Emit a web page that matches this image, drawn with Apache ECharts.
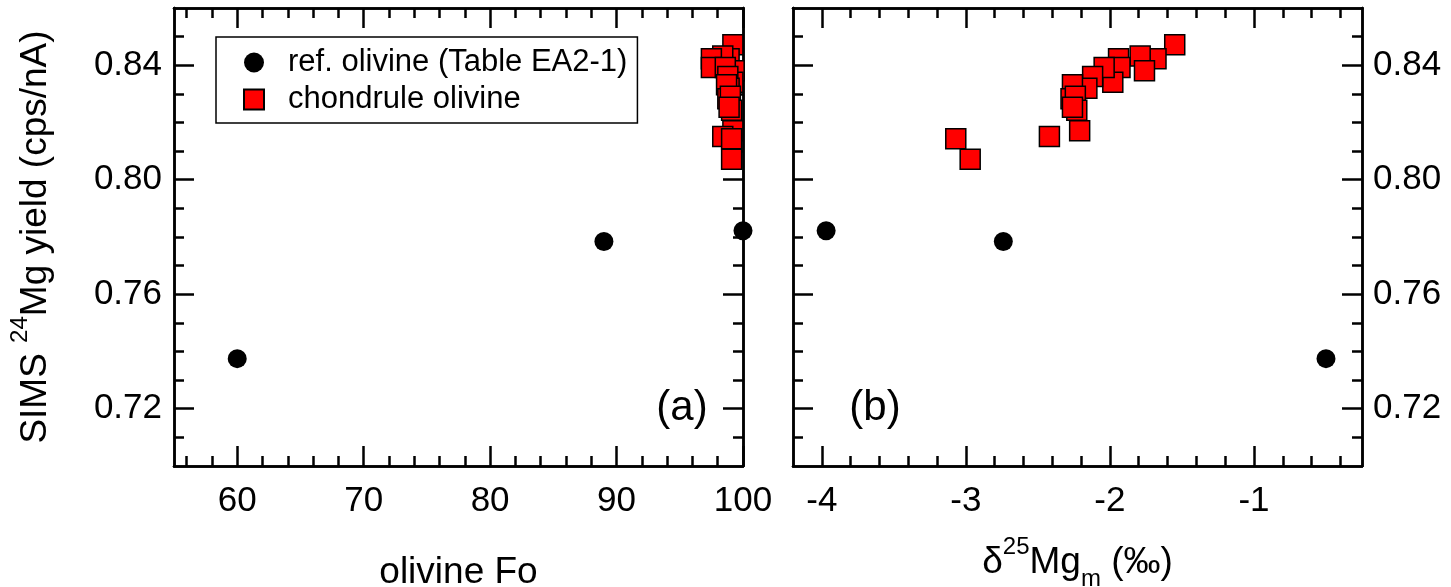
<!DOCTYPE html>
<html>
<head>
<meta charset="utf-8">
<script src="https://cdn.jsdelivr.net/npm/echarts@6/dist/echarts.min.js"></script>
<style>
  html, body { margin: 0; padding: 0; background: #fff; }
  #chart { width: 1451px; height: 587px; }
</style>
</head>
<body>
<div id="chart"></div>
<script>
// reference olivine (Table EA2-1)
const refFo = [60, 89, 100];
const refDelta = [-0.50, -2.74, -3.97];
const refYield = [0.7375, 0.7784, 0.7822];

// chondrule olivine
const chonFo = [99.2, 98.9, 98.4, 99.3, 97.5, 97.5, 99.2, 98.6, 98.8, 98.9,
                98.7, 98.8, 99.0, 99.1, 98.9, 99.2, 98.4, 99.1, 99.1];
const chonDelta = [-1.55, -1.68, -1.79, -1.76, -1.94, -1.93, -1.98, -2.04, -2.12, -2.16,
                   -2.26, -2.27, -2.24, -2.23, -2.26, -2.21, -2.42, -3.07, -2.97];
const chonYield = [0.8472, 0.8423, 0.8432, 0.8381, 0.8423, 0.8392, 0.8341, 0.8392, 0.8361, 0.8320,
                   0.8332, 0.8283, 0.8292, 0.8243, 0.8253, 0.8171, 0.8151, 0.8143, 0.8072];

// tick labels
const foTicks = [60, 70, 80, 90, 100];
const deltaTicks = [-4, -3, -2, -1];
const yieldTicks = [0.72, 0.76, 0.80, 0.84];

const foRange = [55, 100];
const deltaRange = [-4.2, -0.25];
const yieldRange = [0.70, 0.86];

// minor tick positions
const foMinor = [];
for (let v = 56; v < 100; v += 2) foMinor.push(v);
const deltaMinor = [];
for (let k = 1; k < 20; k++) deltaMinor.push(Math.round((-4.2 + 0.2 * k) * 10) / 10);
const yieldMinor = [];
for (let k = 1; k < 16; k++) yieldMinor.push(Math.round((0.70 + 0.01 * k) * 100) / 100);

const font = 'Liberation Sans, Arial, sans-serif';
const black = '#000';

function axisPair(grid, pos, range, major, minor, label, extra) {
    const base = {
        type: 'value', gridIndex: grid, position: pos,
        min: range[0], max: range[1],
        axisLine: { show: true, onZero: false, lineStyle: { color: black, width: 2.5 } },
        splitLine: { show: false }
    };
    const main = Object.assign({}, base, {
        axisTick: { show: true, inside: true, length: 20, customValues: major,
                    lineStyle: { color: black, width: 2.5 } },
        axisLabel: label ? Object.assign({ show: true, customValues: major, color: black,
                    fontSize: 35, fontFamily: font }, label) : { show: false }
    }, extra || {});
    const small = Object.assign({}, base, {
        axisTick: { show: true, inside: true, length: 10, customValues: minor,
                    lineStyle: { color: black, width: 2.5 } },
        axisLabel: { show: false }
    });
    return [main, small];
}

const supRich = {
    sup: { fontSize: 24, lineHeight: 20, verticalAlign: 'top', fontFamily: font, color: black },
    sub: { fontSize: 24, lineHeight: 20, verticalAlign: 'bottom', fontFamily: font, color: black }
};
const titleStyle = { fontSize: 37, lineHeight: 56, color: black, fontFamily: font, rich: supRich };
const yFmt = v => v.toFixed(2);

// x: 0,1 bottom / 2,3 top of grid 0 ; 4,5 bottom / 6,7 top of grid 1
const xAxes = [].concat(
    axisPair(0, 'bottom', foRange, foTicks, foMinor, { margin: 18 },
             { name: 'olivine Fo', nameLocation: 'middle', nameGap: 79, nameTextStyle: titleStyle }),
    axisPair(0, 'top', foRange, foTicks, foMinor, null),
    axisPair(1, 'bottom', deltaRange, deltaTicks, deltaMinor, { margin: 18 },
             { name: '\u03B4{sup|25}Mg{sub|m} (\u2030)', nameLocation: 'middle', nameGap: 69, nameTextStyle: titleStyle }),
    axisPair(1, 'top', deltaRange, deltaTicks, deltaMinor, null)
);
// y: 0,1 left / 2,3 right of grid 0 ; 4,5 left / 6,7 right of grid 1
const yAxes = [].concat(
    axisPair(0, 'left', yieldRange, yieldTicks, yieldMinor, { margin: 12, formatter: yFmt },
             { name: 'SIMS {sup|24}Mg yield (cps/nA)', nameLocation: 'middle', nameGap: 110, nameRotate: 90, nameTextStyle: titleStyle }),
    axisPair(0, 'right', yieldRange, yieldTicks, yieldMinor, null),
    axisPair(1, 'left', yieldRange, yieldTicks, yieldMinor, null),
    axisPair(1, 'right', yieldRange, yieldTicks, yieldMinor, { margin: 11, formatter: yFmt })
);

const refName = 'ref. olivine (Table EA2-1)';
const chonName = 'chondrule olivine';
const circleStyle = { color: black, opacity: 1 };
const squareStyle = { color: '#ff0000', borderColor: black, borderWidth: 1.5, opacity: 1 };

function pts(xs, ys) { return xs.map((x, i) => [x, ys[i]]); }

const chart = echarts.init(document.getElementById('chart'), null, { renderer: 'canvas' });
chart.setOption({
    backgroundColor: '#fff',
    animation: false,
    grid: [
        { left: 174, top: 8, width: 569, height: 458, outerBoundsMode: 'none' },
        { left: 793, top: 8, width: 569, height: 458, outerBoundsMode: 'none' }
    ],
    xAxis: xAxes,
    yAxis: yAxes,
    legend: {
        orient: 'vertical', left: 216, top: 37,
        padding: [10, 10, 8, 27], itemGap: 6, itemWidth: 20, itemHeight: 20,
        borderColor: black, borderWidth: 1.5, borderRadius: 0,
        textStyle: { fontSize: 31, lineHeight: 30, fontFamily: font, color: black, padding: [0, 0, 0, 19] },
        data: [{ name: refName, icon: 'circle' }, { name: chonName, icon: 'rect' }]
    },
    graphic: [
        { type: 'text', x: 682, y: 408, style: { text: '(a)', fontSize: 42, fontFamily: font, fill: black, align: 'center', verticalAlign: 'middle' } },
        { type: 'text', x: 875, y: 408, style: { text: '(b)', fontSize: 42, fontFamily: font, fill: black, align: 'center', verticalAlign: 'middle' } }
    ],
    series: [
        { name: chonName, type: 'scatter', xAxisIndex: 0, yAxisIndex: 0, symbol: 'rect', symbolSize: 20,
          clip: false, itemStyle: squareStyle, data: pts(chonFo, chonYield) },
        { name: refName, type: 'scatter', xAxisIndex: 0, yAxisIndex: 0, symbol: 'circle', symbolSize: 19,
          clip: false, itemStyle: circleStyle, data: pts(refFo, refYield) },
        { name: chonName, type: 'scatter', xAxisIndex: 4, yAxisIndex: 4, symbol: 'rect', symbolSize: 20,
          clip: false, itemStyle: squareStyle, data: pts(chonDelta, chonYield) },
        { name: refName, type: 'scatter', xAxisIndex: 4, yAxisIndex: 4, symbol: 'circle', symbolSize: 19,
          clip: false, itemStyle: circleStyle, data: pts(refDelta, refYield) }
    ]
});
</script>
</body>
</html>
